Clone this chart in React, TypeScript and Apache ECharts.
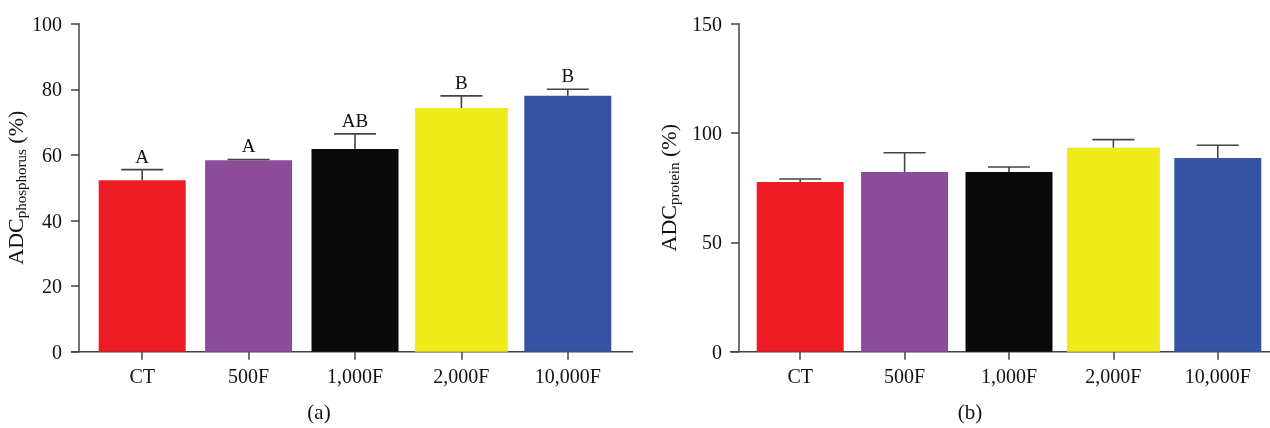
import React, { useEffect, useRef } from "react";
import * as echarts from "echarts";

const categories = ["CT", "500F", "1,000F", "2,000F", "10,000F"];
const phosphorusMean = [52.3, 58.4, 61.8, 74.3, 78.0];
const phosphorusErr = [3.2, 0.2, 4.6, 3.7, 2.0];
const phosphorusLetters = ["A", "A", "AB", "B", "B"];
const proteinMean = [77.6, 82.2, 82.2, 93.3, 88.6];
const proteinErr = [1.4, 8.8, 2.3, 3.7, 5.8];
const phosphorusTicks = [0, 20, 40, 60, 80, 100];
const proteinTicks = [0, 50, 100, 150];

const barColors = ["#ED1C24", "#8B4C9A", "#0A0A0A", "#F0EB1A", "#3453A3"];
const AXIS = "#444444";
const FONT = "'Liberation Serif', 'DejaVu Serif', serif";

export default function App() {
  const ref = useRef<HTMLDivElement>(null);
  useEffect(() => {
    if (!ref.current) return;
    const chart = echarts.init(ref.current, undefined, { renderer: "svg" });

    const barRender = (params: any, api: any) => {
      const i = api.value(0);
      const v = api.value(1);
      const top = api.coord([i, v]);
      const base = api.coord([i, 0]);
      const w = params.dataIndex === 3 ? 93 : 87;
      return {
        type: "rect",
        shape: { x: top[0] - w / 2, y: top[1], width: w, height: base[1] - top[1] },
        style: { fill: barColors[params.dataIndex] },
      };
    };

    const errRender = (letters: string[] | null) => (params: any, api: any) => {
      const i = api.value(0);
      const m = api.value(1);
      const e = api.value(2);
      const top = api.coord([i, m]);
      const cap = api.coord([i, m + e]);
      const half = 21;
      const children: any[] = [
        {
          type: "line",
          shape: { x1: top[0], y1: top[1], x2: cap[0], y2: cap[1] },
          style: { stroke: AXIS, lineWidth: 1.6 },
        },
        {
          type: "line",
          shape: { x1: cap[0] - half, y1: cap[1], x2: cap[0] + half, y2: cap[1] },
          style: { stroke: AXIS, lineWidth: 1.6 },
        },
      ];
      if (letters) {
        children.push({
          type: "text",
          x: cap[0],
          y: cap[1] - 4,
          style: {
            text: letters[params.dataIndex],
            fill: "#111",
            font: `19px ${FONT}`,
            align: "center",
            verticalAlign: "bottom",
          },
        });
      }
      return { type: "group", children };
    };

    const xAxisBase = (gridIndex: number) => ({
      type: "category" as const,
      gridIndex,
      data: categories,
      axisLine: { show: false },
      axisTick: { show: true, alignWithLabel: true, length: 8, lineStyle: { color: AXIS, width: 1.5 } },
      axisLabel: { color: "#111", fontFamily: FONT, fontSize: 20, margin: 14 },
    });

    const yAxisBase = (gridIndex: number, ticks: number[], name: string, gap: number, offset: number) => ({
      type: "value" as const,
      gridIndex,
      min: ticks[0],
      max: ticks[ticks.length - 1],
      interval: ticks[1] - ticks[0],
      offset,
      splitLine: { show: false },
      axisLine: { show: true, lineStyle: { color: AXIS, width: 1.5 } },
      axisTick: { show: true, length: 8, lineStyle: { color: AXIS, width: 1.5 } },
      axisLabel: { color: "#111", fontFamily: FONT, fontSize: 20, margin: 17 },
      name,
      nameLocation: "middle" as const,
      nameGap: gap,
      nameTextStyle: {
        color: "#111",
        fontFamily: FONT,
        rich: {
          m: { fontSize: 22, fontFamily: FONT, color: "#111", lineHeight: 26 },
          s: { fontSize: 15, fontFamily: FONT, color: "#111", verticalAlign: "bottom", padding: [10, 0, 0, 0], lineHeight: 26 },
        },
      },
    });

    chart.setOption({
      animation: false,
      grid: [
        { left: 89, right: 649, top: 23.7, bottom: 76.3 },
        { left: 748, right: 0, top: 23.7, bottom: 76.3 },
      ],
      xAxis: [xAxisBase(0), xAxisBase(1)],
      yAxis: [
        yAxisBase(0, phosphorusTicks, "{m|ADC}{s|phosphorus}{m| (%)}", 42, 10),
        yAxisBase(1, proteinTicks, "{m|ADC}{s|protein}{m| (%)}", 58, 9),
      ],
      graphic: [
        { type: "line", shape: { x1: 71, y1: 351.7, x2: 633, y2: 351.7 }, style: { stroke: AXIS, lineWidth: 1.5 } },
        { type: "line", shape: { x1: 730, y1: 351.7, x2: 1270, y2: 351.7 }, style: { stroke: AXIS, lineWidth: 1.5 } },
        { type: "text", x: 319, y: 412, style: { text: "(a)", font: `21px ${FONT}`, fill: "#111", align: "center", verticalAlign: "middle" } },
        { type: "text", x: 970, y: 412, style: { text: "(b)", font: `21px ${FONT}`, fill: "#111", align: "center", verticalAlign: "middle" } },
      ],
      series: [
        {
          type: "custom",
          xAxisIndex: 0,
          yAxisIndex: 0,
          renderItem: barRender,
          data: phosphorusMean.map((v, i) => [i, v]),
          z: 2,
        },
        {
          type: "custom",
          xAxisIndex: 0,
          yAxisIndex: 0,
          renderItem: errRender(phosphorusLetters),
          data: phosphorusMean.map((v, i) => [i, v, phosphorusErr[i]]),
          z: 3,
        },
        {
          type: "custom",
          xAxisIndex: 1,
          yAxisIndex: 1,
          renderItem: barRender,
          data: proteinMean.map((v, i) => [i, v]),
          z: 2,
        },
        {
          type: "custom",
          xAxisIndex: 1,
          yAxisIndex: 1,
          renderItem: errRender(null),
          data: proteinMean.map((v, i) => [i, v, proteinErr[i]]),
          z: 3,
        },
      ],
    });
    return () => chart.dispose();
  }, []);
  return <div ref={ref} style={{ position: "fixed", left: 0, top: 0, width: 1270, height: 428 }} />;
}
